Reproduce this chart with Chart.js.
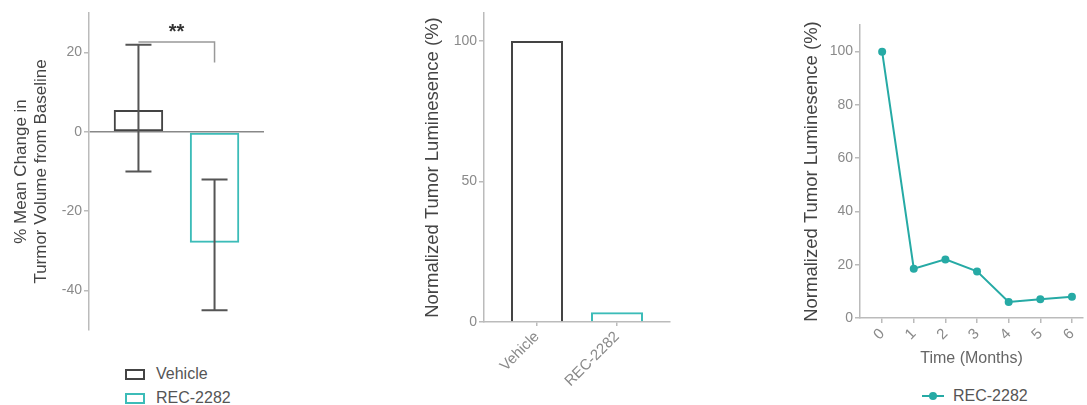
<!DOCTYPE html>
<html>
<head>
<meta charset="utf-8">
<script src="https://cdn.jsdelivr.net/npm/chart.js@4"></script>
<style>
body { margin: 0; background: #fff; width: 1087px; height: 405px; overflow: hidden; position: relative; font-family: "Liberation Sans", Arial, sans-serif; }
canvas { position: absolute; top: 0; }
.leg { position: absolute; font-size: 16px; color: #555; display: flex; align-items: center; white-space: nowrap; }
.box { width: 16px; height: 7px; border: 2px solid; margin-right: 11px; }
.ln { position: relative; width: 22px; height: 2px; margin-right: 9px; }
.ln i { position: absolute; left: 7px; top: -3px; width: 8px; height: 8px; border-radius: 50%; }
</style>
</head>
<body>
<canvas id="c1" width="280" height="345" style="left:0"></canvas>
<canvas id="c2" width="290" height="405" style="left:400px"></canvas>
<canvas id="c3" width="307" height="368" style="left:780px"></canvas>

<div class="leg" style="left:125px;top:365px"><span class="box" style="border-color:#444"></span>Vehicle</div>
<div class="leg" style="left:125px;top:389px"><span class="box" style="border-color:#3cbcb8"></span>REC-2282</div>
<div class="leg" style="left:922px;top:387px"><span class="ln" style="background:#26aaa5"><i style="background:#26aaa5"></i></span>REC-2282</div>

<script>
// data
var groups = ['Vehicle', 'REC-2282'];
var volumeChange = [5.5, -28];
var volumeErrLow = [-10, -45];
var volumeErrHigh = [22, -12];
var volumeTicks = [-40, -20, 0, 20];
var lumValues = [100, 3.5];
var lumTicks = [0, 50, 100];
var months = [0, 1, 2, 3, 4, 5, 6];
var lumOverTime = [100, 18.5, 22, 17.5, 6, 7, 8];
var timeLumTicks = [0, 20, 40, 60, 80, 100];

var grayText = '#8a8a8a';
var titleText = '#444';
var axisGray = '#bbb';
var teal = '#26aaa5';
var tealLight = '#3cbcb8';
var dark = '#444';

Chart.defaults.font.family = '"Liberation Sans", Arial, sans-serif';
Chart.defaults.font.size = 14;
Chart.defaults.color = grayText;

function fixTicks(list) {
    return function(scale) { scale.ticks = list.map(function(v) { return {value: v}; }); };
}

function yAxis(min, max, ticks, title, width, titlePad, titleSize) {
    return {
        min: min, max: max,
        afterBuildTicks: fixTicks(ticks),
        afterFit: function(s) { s.width = width; },
        border: {color: axisGray, width: 1.5},
        grid: {drawOnChartArea: false, tickLength: 5, tickColor: axisGray, lineWidth: 1.5},
        ticks: {color: grayText, padding: 2, font: {size: 14}},
        title: {display: true, text: title, color: titleText, font: {size: titleSize}, padding: {top: titlePad, bottom: 0}}
    };
}

// chart 1: % change in tumor volume
var errorBars = {
    id: 'errorBars',
    afterDatasetsDraw: function(chart) {
        var ctx = chart.ctx, x = chart.scales.x, y = chart.scales.y;
        ctx.save();
        ctx.strokeStyle = '#555';
        ctx.lineWidth = 2;
        for (var i = 0; i < volumeChange.length; i++) {
            var px = x.getPixelForValue(i);
            var lo = y.getPixelForValue(volumeErrLow[i]);
            var hi = y.getPixelForValue(volumeErrHigh[i]);
            ctx.beginPath();
            ctx.moveTo(px, hi); ctx.lineTo(px, lo);
            ctx.moveTo(px - 13, hi); ctx.lineTo(px + 13, hi);
            ctx.moveTo(px - 13, lo); ctx.lineTo(px + 13, lo);
            ctx.stroke();
        }
        // significance bracket
        var x0 = x.getPixelForValue(0), x1 = x.getPixelForValue(1);
        ctx.strokeStyle = '#999';
        ctx.lineWidth = 1.5;
        ctx.beginPath();
        ctx.moveTo(x0, y.getPixelForValue(22.7));
        ctx.lineTo(x1, y.getPixelForValue(22.7));
        ctx.lineTo(x1, y.getPixelForValue(17.5));
        ctx.stroke();
        ctx.fillStyle = '#333';
        ctx.font = 'bold 20px "Liberation Sans", Arial, sans-serif';
        ctx.textAlign = 'center';
        ctx.textBaseline = 'middle';
        ctx.fillText('**', (x0 + x1) / 2, y.getPixelForValue(25));
        ctx.restore();
    }
};

new Chart(document.getElementById('c1'), {
    type: 'bar',
    data: {
        datasets: [{
            data: volumeChange.map(function(v, i) { return {x: i, y: v}; }),
            backgroundColor: 'rgba(0,0,0,0)',
            borderColor: [dark, tealLight],
            borderWidth: 2,
            borderSkipped: false,
            barPercentage: 0.65,
            categoryPercentage: 1
        }]
    },
    options: {
        responsive: false,
        animation: false,
        layout: {padding: {top: 13, right: 16, left: 0, bottom: 0}},
        plugins: {legend: {display: false}, tooltip: {enabled: false}},
        scales: {
            x: {
                type: 'linear', min: -0.65, max: 1.65, offset: false,
                afterBuildTicks: fixTicks([0, 1]),
                afterFit: function(s) { s.height = 15; },
                grid: {display: false, offset: false}, border: {display: false},
                ticks: {display: false}
            },
            y: Object.assign(yAxis(-50, 30, volumeTicks, ['% Mean Change in', 'Turmor Volume from Baseline'], 89, 11, 17), {
                grid: {
                    drawOnChartArea: true, tickLength: 5, lineWidth: 1.5,
                    tickColor: axisGray,
                    color: function(c) { return c.tick && c.tick.value === 0 ? '#888' : 'rgba(0,0,0,0)'; }
                }
            })
        }
    },
    plugins: [errorBars]
});

// chart 2: normalized luminescence by group
new Chart(document.getElementById('c2'), {
    type: 'bar',
    data: {
        datasets: [{
            data: lumValues.map(function(v, i) { return {x: i, y: v}; }),
            backgroundColor: 'rgba(0,0,0,0)',
            borderColor: [dark, tealLight],
            borderWidth: 2,
            borderSkipped: 'bottom',
            barPercentage: 0.65,
            categoryPercentage: 1
        }]
    },
    options: {
        responsive: false,
        animation: false,
        layout: {padding: {top: 13, right: 20, left: 0, bottom: 0}},
        plugins: {legend: {display: false}, tooltip: {enabled: false}},
        scales: {
            x: {
                type: 'linear', min: -0.6625, max: 1.6625, offset: false,
                afterBuildTicks: fixTicks([0, 1]),
                afterFit: function(s) { s.height = 83; },
                border: {color: axisGray, width: 1.5},
                grid: {drawOnChartArea: false, offset: false, tickLength: 4, tickColor: axisGray, lineWidth: 1.5},
                ticks: {
                    color: grayText, minRotation: 45, maxRotation: 45, padding: 2, font: {size: 15},
                    callback: function(v) { return groups[v]; }
                }
            },
            y: yAxis(0, 110, lumTicks, 'Normalized Tumor Luminesence (%)', 84, 22, 18.5)
        }
    }
});

// chart 3: luminescence over time
new Chart(document.getElementById('c3'), {
    type: 'line',
    data: {
        datasets: [{
            label: 'REC-2282',
            data: months.map(function(m, i) { return {x: m, y: lumOverTime[i]}; }),
            borderColor: teal,
            backgroundColor: teal,
            borderWidth: 2,
            pointRadius: 4,
            pointBorderWidth: 0,
            tension: 0
        }]
    },
    options: {
        responsive: false,
        animation: false,
        layout: {padding: {top: 25, right: 0, left: 0, bottom: 0}},
        plugins: {legend: {display: false}, tooltip: {enabled: false}},
        scales: {
            x: {
                type: 'linear', min: -0.7, max: 6.35,
                afterBuildTicks: fixTicks(months),
                afterFit: function(s) { s.height = 50; },
                border: {color: axisGray, width: 1.5},
                grid: {drawOnChartArea: false, tickLength: 5, tickColor: axisGray, lineWidth: 1.5},
                ticks: {color: grayText, minRotation: 45, maxRotation: 45, padding: 2, font: {size: 15}},
                title: {display: true, text: 'Time (Months)', color: '#666', font: {size: 16}, padding: {top: 0, bottom: 0}}
            },
            y: yAxis(0, 110, timeLumTicks, 'Normalized Tumor Luminesence (%)', 80, 21, 18.5)
        }
    }
});
</script>
</body>
</html>
